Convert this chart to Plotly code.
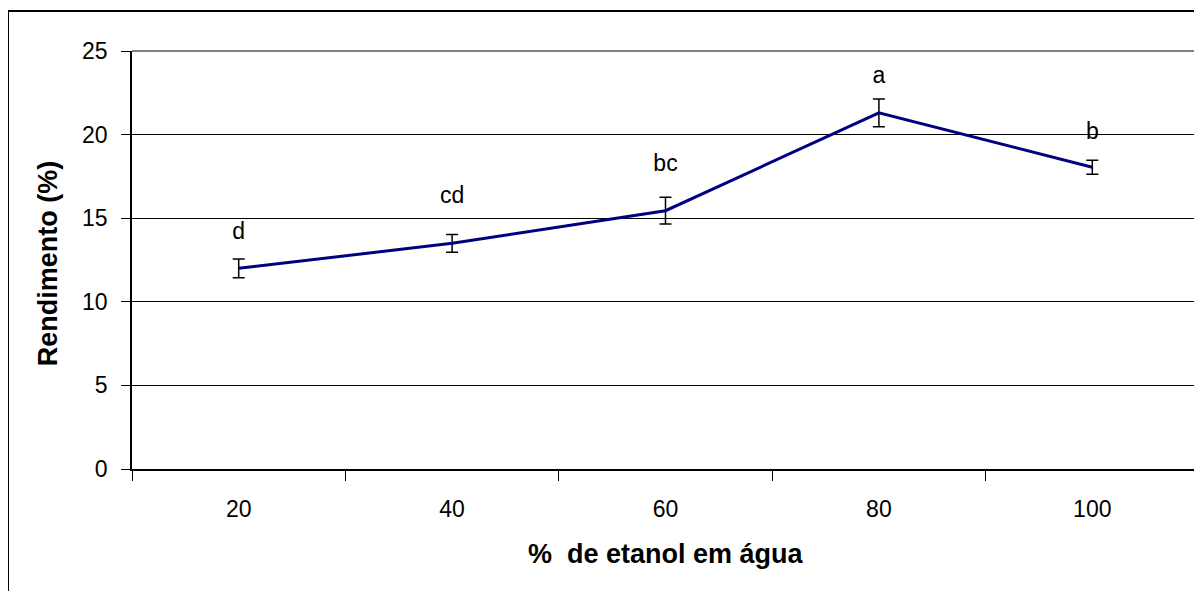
import plotly.graph_objects as go

categories = ["20", "40", "60", "80", "100"]
rendimento = [12.0, 13.5, 15.45, 21.3, 18.05]
erro = [0.56, 0.53, 0.8, 0.83, 0.42]
letras = ["d", "cd", "bc", "a", "b"]
letras_y = [14.12, 16.28, 18.17, 23.46, 20.11]

FONT = "Liberation Sans, Arial, sans-serif"

fig = go.Figure()
fig.add_trace(go.Scatter(
    x=categories, y=rendimento, mode="lines",
    line=dict(color="#000080", width=3),
    error_y=dict(type="data", array=erro, visible=True, color="black",
                 thickness=1.5, width=6),
    showlegend=False, hoverinfo="skip",
))
fig.add_trace(go.Scatter(
    x=categories, y=letras_y, mode="text", text=letras,
    textfont=dict(family=FONT, size=23, color="black"),
    showlegend=False, hoverinfo="skip",
))

# page body has an 8px margin; the figure is sized to fit the window
fig.update_layout(
    width=1194, height=583,
    margin=dict(l=124, r=3, t=43, b=122),
    paper_bgcolor="white", plot_bgcolor="white",
    font=dict(family=FONT, size=23, color="black"),
    xaxis=dict(
        type="category", range=[-0.5, 4.5], tickson="boundaries",
        ticks="outside", ticklen=10, tickcolor="black", tickwidth=1,
        showline=True, linecolor="black", linewidth=1.5,
        showgrid=False, zeroline=False, ticklabelstandoff=19,
        tickfont=dict(family=FONT, size=23),
    ),
    yaxis=dict(
        range=[0, 25], tickvals=[0, 5, 10, 15, 20, 25],
        ticks="outside", ticklen=9, tickcolor="black", tickwidth=1,
        showline=True, linecolor="black", linewidth=1.5,
        showgrid=True, gridcolor="black", gridwidth=1,
        zeroline=False, ticklabelstandoff=9,
        tickfont=dict(family=FONT, size=23),
    ),
    annotations=[
        dict(text="<b>Rendimento (%)</b>", xref="paper", yref="paper",
             x=(48 - 132) / 1067, y=(468.7 - 263) / 417.7, textangle=-90,
             showarrow=False, font=dict(family=FONT, size=27),
             xanchor="center", yanchor="middle"),
        dict(text="<b>%  de etanol em água</b>", xref="paper", yref="paper",
             x=0.5, y=-(554 - 468.7) / 417.7,
             showarrow=False, font=dict(family=FONT, size=27),
             xanchor="center", yanchor="middle"),
    ],
    shapes=[
        dict(type="line", xref="paper", yref="paper", x0=0, x1=1, y0=1, y1=1,
             line=dict(color="#808080", width=2)),
        dict(type="line", xref="paper", yref="paper", x0=1, x1=1, y0=0, y1=1,
             line=dict(color="#808080", width=1.5)),
        dict(type="rect", xref="paper", yref="paper",
             x0=(8 - 132) / 1067, x1=1.02, y0=-0.4, y1=(468.7 - 11) / 417.7,
             line=dict(color="black", width=2), fillcolor="rgba(0,0,0,0)"),
    ],
)

fig.write_html("out.html")
